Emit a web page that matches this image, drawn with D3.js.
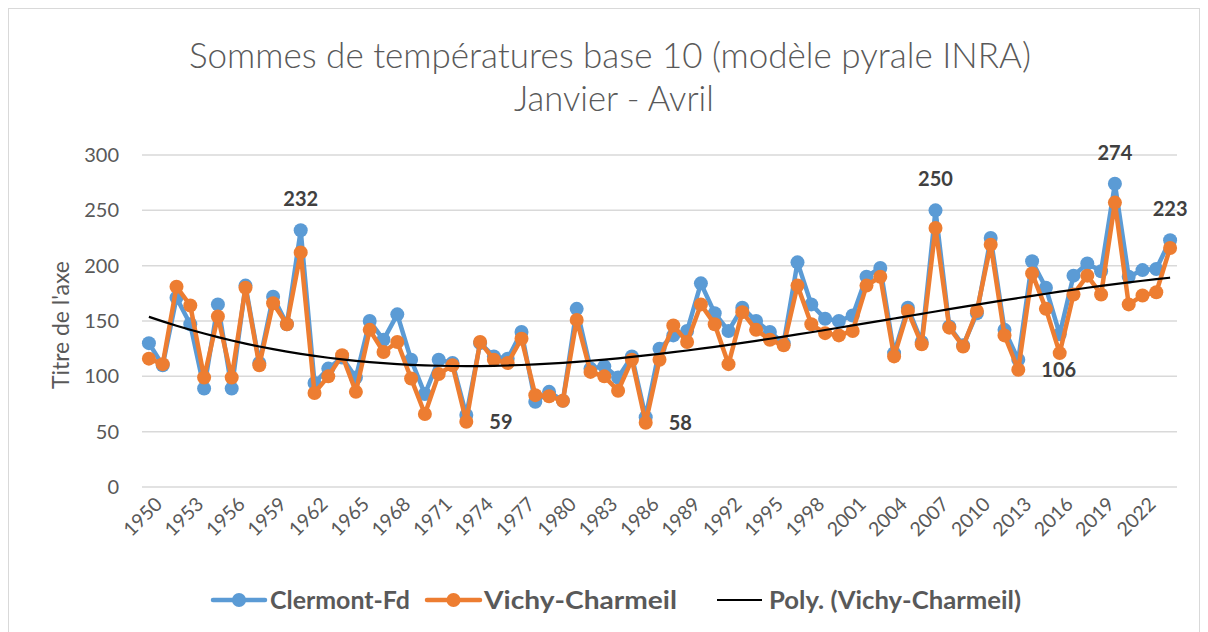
<!DOCTYPE html>
<html><head><meta charset="utf-8">
<script src="https://cdn.jsdelivr.net/npm/d3@7/dist/d3.min.js"></script>
<style>html,body{margin:0;padding:0;background:#fff;}svg{display:block;}</style>
</head><body>
<script>
const years = [1950,1951,1952,1953,1954,1955,1956,1957,1958,1959,1960,1961,1962,1963,1964,1965,1966,1967,1968,1969,1970,1971,1972,1973,1974,1975,1976,1977,1978,1979,1980,1981,1982,1983,1984,1985,1986,1987,1988,1989,1990,1991,1992,1993,1994,1995,1996,1997,1998,1999,2000,2001,2002,2003,2004,2005,2006,2007,2008,2009,2010,2011,2012,2013,2014,2015,2016,2017,2018,2019,2020,2021,2022,2023,2024];
const clermont = [130,110,171,147,89,165,89,182,112,172,147,232,94,107,117,99,150,133,156,115,84,115,112,65,130,118,116,140,77,86,78,161,107,109,99,118,63,125,137,141,184,157,141,162,150,140,130,203,165,152,150,155,190,198,121,162,131,250,145,128,157,225,142,115,204,180,138,191,202,195,274,190,196,197,223];
const vichy = [116,111,181,164,99,154,99,180,110,166,147,212,85,100,119,86,142,122,131,98,66,102,110,59,131,115,112,134,83,82,78,151,104,100,87,115,58,115,146,131,165,147,111,158,142,133,128,182,147,139,137,141,182,190,118,159,129,234,144,127,159,219,137,106,193,161,121,174,191,174,257,165,173,176,216];
const tickYears = [1950,1953,1956,1959,1962,1965,1968,1971,1974,1977,1980,1983,1986,1989,1992,1995,1998,2001,2004,2007,2010,2013,2016,2019,2022];
const yTicks = [0,50,100,150,200,250,300];
const labelYearsAbove = [1961,2007,2020,2024];   // Clermont-Fd labels
const labelYearsRight = [1973,1986,2013];        // Vichy-Charmeil labels
const seriesNames = ["Clermont-Fd","Vichy-Charmeil","Poly. (Vichy-Charmeil)"];
const titleLines = ["Sommes de températures base 10 (modèle pyrale INRA)","Janvier - Avril"];
const axisTitle = "Titre de l'axe";
const polyOrder = 3;

const W = 1208, H = 632;
const svg = d3.select("body").append("svg").attr("width", W).attr("height", H);
const FONT = "Lato, 'Open Sans', sans-serif";
const GRAY = "#595959";

svg.append("rect").attr("x",8.5).attr("y",8.5).attr("width",1191).attr("height",640)
  .attr("fill","#fff").attr("stroke","#d9d9d9").attr("stroke-width",1);

const x = d3.scaleBand().domain(years).range([142, 1177]);
const y = d3.scaleLinear().domain([0,300]).range([487, 155]);
const cx = d => x(d) + x.bandwidth()/2;

function fit(sel, target){
  const n = sel.node(); const len = n.getComputedTextLength();
  const fs = parseFloat(sel.attr("font-size"));
  const nf = fs*target/len;
  sel.attr("font-size", nf);
  return nf;
}

// title
const t1 = svg.append("text").attr("x",610).attr("y",68).attr("text-anchor","middle")
  .attr("font-family",FONT).attr("font-weight",300).attr("font-size",30).attr("fill",GRAY).text(titleLines[0]);
fit(t1, 842);
const t2 = svg.append("text").attr("x",614).attr("y",111).attr("text-anchor","middle")
  .attr("font-family",FONT).attr("font-weight",300).attr("font-size",30).attr("fill",GRAY).text(titleLines[1]);
fit(t2, 200);

// gridlines
svg.append("g").selectAll("line").data(yTicks).join("line")
  .attr("x1",142).attr("x2",1177).attr("y1",d=>y(d)).attr("y2",d=>y(d))
  .attr("stroke","#d9d9d9").attr("stroke-width",1.5);

// y axis
const ya = svg.append("g").attr("transform","translate(128,0)")
  .call(d3.axisLeft(y).tickValues(yTicks).tickSize(0).tickPadding(9));
ya.select(".domain").remove();
ya.selectAll("text").attr("font-family",FONT).attr("font-size",20).attr("fill",GRAY);

const at = svg.append("text").attr("transform","translate(69,325) rotate(-90)").attr("text-anchor","middle")
  .attr("font-family",FONT).attr("font-size",18).attr("fill",GRAY).text(axisTitle);
fit(at, 128);

// x axis
const xa = svg.append("g").attr("transform","translate(0,487)")
  .call(d3.axisBottom(x).tickValues(tickYears).tickSize(0).tickPadding(0));
xa.select(".domain").remove();
xa.selectAll("text").attr("font-family",FONT).attr("font-size",19.5).attr("fill",GRAY)
  .attr("text-anchor","end").attr("dy",0)
  .attr("transform", "translate(11,15) rotate(-45)")
  .attr("y",0).attr("x",0).attr("dominant-baseline","middle");

// series
const line = d3.line().x((d,i)=>cx(years[i])).y(d=>y(d));
function drawSeries(vals, color){
  svg.append("path").datum(vals).attr("d",line).attr("fill","none")
    .attr("stroke",color).attr("stroke-width",4.5).attr("stroke-linejoin","round");
  svg.append("g").selectAll("circle").data(vals).join("circle")
    .attr("cx",(d,i)=>cx(years[i])).attr("cy",d=>y(d)).attr("r",7).attr("fill",color);
}
drawSeries(clermont, "#5B9BD5");
drawSeries(vichy, "#ED7D31");

// polynomial trend (least squares) on Vichy-Charmeil
function polyfit(xs, ys, k){
  const n = k+1;
  const A = Array.from({length:n},()=>new Array(n+1).fill(0));
  for(let r=0;r<n;r++){
    for(let c=0;c<n;c++) A[r][c] = d3.sum(xs, v=>Math.pow(v,r+c));
    A[r][n] = d3.sum(xs, (v,i)=>ys[i]*Math.pow(v,r));
  }
  for(let i=0;i<n;i++){
    let p=i; for(let j=i+1;j<n;j++) if(Math.abs(A[j][i])>Math.abs(A[p][i])) p=j;
    [A[i],A[p]]=[A[p],A[i]];
    for(let j=i+1;j<n;j++){ const f=A[j][i]/A[i][i]; for(let c=i;c<=n;c++) A[j][c]-=f*A[i][c]; }
  }
  const co=new Array(n).fill(0);
  for(let i=n-1;i>=0;i--){ let s=A[i][n]; for(let c=i+1;c<n;c++) s-=A[i][c]*co[c]; co[i]=s/A[i][i]; }
  return co;
}
const xs = years.map((d,i)=>(i+1)/75);
const co = polyfit(xs, vichy, polyOrder);
const trend = xs.map(v=>co.reduce((s,c,j)=>s+c*Math.pow(v,j),0));
svg.append("path").datum(trend).attr("d", d3.line().x((d,i)=>cx(years[i])).y(d=>y(d)).curve(d3.curveMonotoneX))
  .attr("fill","none").attr("stroke","#000").attr("stroke-width",2.2);

// data labels
const lbl = svg.append("g").attr("font-family",FONT).attr("font-weight",700).attr("font-size",20).attr("fill","#404040");
labelYearsAbove.forEach(yr=>{
  const v = clermont[years.indexOf(yr)];
  lbl.append("text").attr("x",cx(yr)).attr("y",y(v)-24).attr("text-anchor","middle").text(v);
});
labelYearsRight.forEach(yr=>{
  const v = vichy[years.indexOf(yr)];
  lbl.append("text").attr("x",cx(yr)+23).attr("y",y(v)).attr("dy","0.36em").attr("text-anchor","start").text(v);
});

// legend
const lg = svg.append("g");
const legendItems = [
  {name:seriesNames[0], color:"#5B9BD5", x1:213, x2:265, tx:270, tw:140, marker:true},
  {name:seriesNames[1], color:"#ED7D31", x1:427, x2:480, tx:484, tw:193, marker:true},
  {name:seriesNames[2], color:"#000", x1:717, x2:762, tx:769, tw:252, marker:false}
];
let legendFs = null;
legendItems.forEach((it,k)=>{
  lg.append("line").attr("x1",it.x1).attr("x2",it.x2).attr("y1",600).attr("y2",600)
    .attr("stroke",it.color).attr("stroke-width",it.marker?4.5:2.2).attr("stroke-linecap", it.marker?"round":"butt");
  if(it.marker) lg.append("circle").attr("cx",(it.x1+it.x2)/2).attr("cy",600).attr("r",7).attr("fill",it.color);
  const t = lg.append("text").attr("x",it.tx).attr("y",600).attr("dy","0.36em")
    .attr("font-family",FONT).attr("font-weight",700).attr("font-size",19).attr("fill",GRAY).text(it.name);
  if(k===0) legendFs = fit(t, it.tw);
  else t.attr("font-size", legendFs).attr("textLength", it.tw).attr("lengthAdjust","spacingAndGlyphs");
});
</script>
</body></html>
